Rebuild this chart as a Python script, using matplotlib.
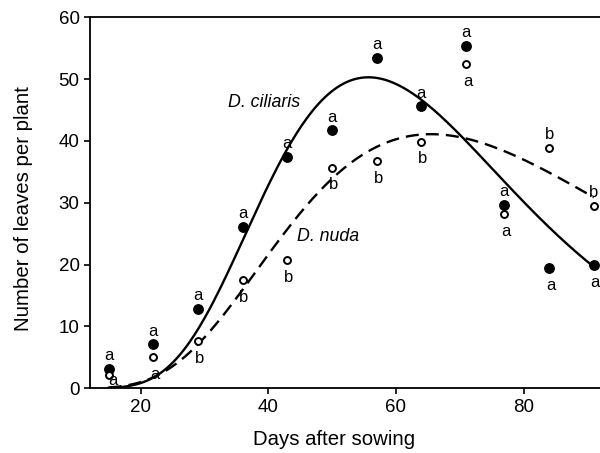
import numpy as np
import matplotlib
matplotlib.use("Agg")
import matplotlib.pyplot as plt

plt.rcParams['font.family'] = ['Liberation Sans', 'DejaVu Sans']

# days after sowing
days = [15, 22, 29, 36, 43, 50, 57, 64, 71, 77, 84, 91]

# mean leaves per plant
ciliaris = [3.2, 7.1, 12.8, 26.1, 37.4, 41.7, 53.4, 45.6, 55.4, 29.7, 19.4, 19.9]
nuda = [2.1, 5.0, 7.6, 17.5, 20.8, 35.7, 36.7, 39.9, 52.4, 28.2, 38.9, 29.5]

# significance letters and where they sit relative to the point
ciliaris_letters = ['a'] * 12
ciliaris_pos = ['above'] * 10 + ['below', 'below']
nuda_letters = ['a', 'a', 'b', 'b', 'b', 'b', 'b', 'b', 'a', 'a', 'b', 'b']
nuda_pos = ['corner'] + ['below'] * 9 + ['above', 'above']

# fitted log-normal peak curves: y = a * exp(-0.5 * (ln(x / x0) / b) ** 2)
ciliaris_fit = (50.3, 55.7, 0.358)
nuda_fit = (41.1, 65.5, 0.435)


def lognormal_peak(x, a, x0, b):
    return a * np.exp(-0.5 * (np.log(x / x0) / b) ** 2)


offsets = {'above': (0, 9.5), 'below': (1, -12.5), 'corner': (3, -4)}

fig = plt.figure(figsize=(6, 4.53), dpi=100)
ax = fig.add_axes([0.15, 0.1428, 0.85, 0.819])

xs = np.linspace(min(days), max(days), 300)
ax.plot(xs, lognormal_peak(xs, *ciliaris_fit), color='black', lw=1.7)
ax.plot(xs, lognormal_peak(xs, *nuda_fit), color='black', lw=1.7,
        dashes=(5.5, 3))

ax.plot(days, ciliaris, 'o', color='black', ms=6.8, zorder=3)
ax.plot(days, nuda, 'o', mfc='white', mec='black', ms=5, mew=1.4, zorder=3)

for series, letters, pos in [(ciliaris, ciliaris_letters, ciliaris_pos),
                             (nuda, nuda_letters, nuda_pos)]:
    for x, y, t, p in zip(days, series, letters, pos):
        ax.annotate(t, (x, y), xytext=offsets[p], textcoords='offset points',
                    ha='center', va='center', fontsize=12, zorder=4)

ax.text(33.7, 46.2, 'D. ciliaris', style='italic', fontsize=12.8, va='center')
ax.text(44.5, 24.5, 'D. nuda', style='italic', fontsize=12.8, va='center')

ax.set_xlim(12.09, 91.97)
ax.set_ylim(0, 60)
ax.set_xticks([20, 40, 60, 80])
ax.set_yticks(range(0, 61, 10))
ax.spines['right'].set_visible(False)
for s in ['left', 'bottom', 'top']:
    ax.spines[s].set_linewidth(1.3)
ax.tick_params(direction='out', length=4, width=1.2, labelsize=13.5,
               top=False, right=False)

ax.set_xlabel('Days after sowing', fontsize=14.7)
ax.set_ylabel('Number of leaves per plant', fontsize=14.7)
ax.xaxis.set_label_coords(0.478, -0.113)
ax.yaxis.set_label_coords(-0.112, 0.485)

fig.savefig('out.png', dpi=100)
